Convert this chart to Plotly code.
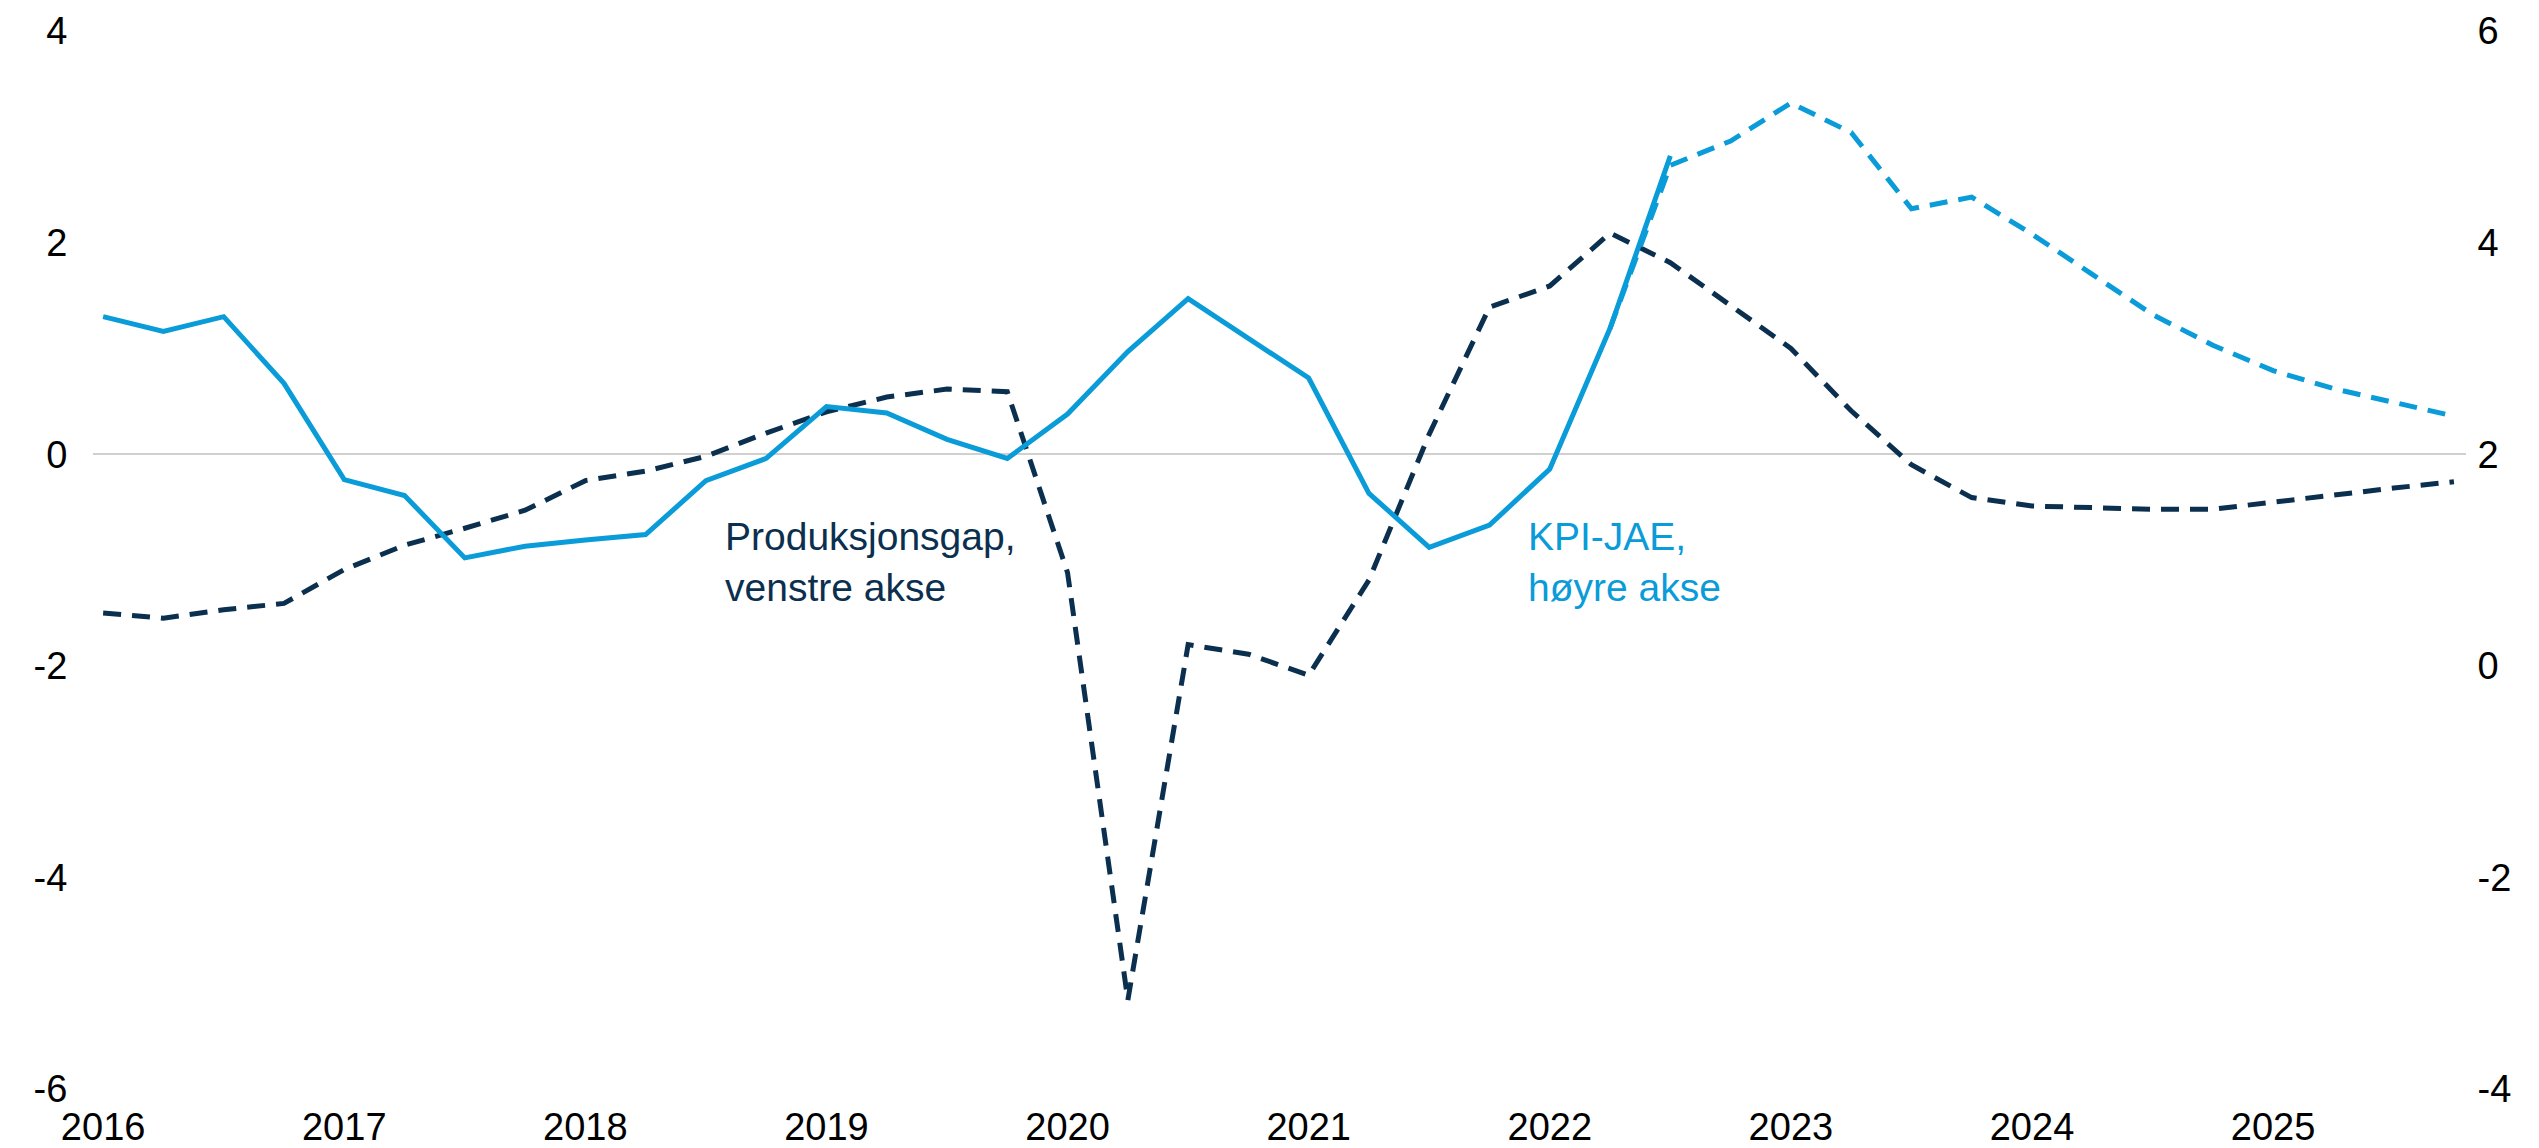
import plotly.graph_objects as go

# quarterly positions, 2016Q1 .. 2025Q4
quarters = [2016 + i / 4 for i in range(40)]

# Produksjonsgap (left axis), dashed throughout
gap = [-1.50, -1.55, -1.47, -1.41, -1.09, -0.86, -0.70, -0.53,
       -0.25, -0.16, -0.02, 0.20, 0.40, 0.54, 0.615, 0.59,
       -1.12, -5.16, -1.80, -1.89, -2.09, -1.19, 0.19, 1.39,
       1.59, 2.09, 1.81, 1.40, 1.00, 0.41, -0.10, -0.41,
       -0.49, -0.505, -0.52, -0.52, -0.45, -0.39, -0.32, -0.26]

# KPI-JAE (right axis), history to 2022Q3
kpi_hist = [3.30, 3.16, 3.30, 2.67, 1.76, 1.61, 1.02, 1.13,
            1.19, 1.24, 1.75, 1.96, 2.45, 2.39, 2.14, 1.96,
            2.38, 2.97, 3.47, 3.09, 2.72, 1.63, 1.12, 1.33,
            1.86, 3.19, 4.82]
# KPI-JAE projection, 2022Q2 .. 2025Q4
kpi_proj = [3.19, 4.73, 4.96, 5.32, 5.04, 4.32, 4.43, 4.08, 3.70,
            3.32, 3.03, 2.79, 2.62, 2.49, 2.36]

years = list(range(2016, 2026))
left_ticks = [-6, -4, -2, 0, 2, 4]
right_ticks = [-4, -2, 0, 2, 4, 6]

navy = "#0b2f4f"
blue = "#0a9bd9"
dash = "18px,11px"
clear = "rgba(0,0,0,0)"

fig = go.Figure()
fig.add_trace(go.Scatter(x=quarters, y=gap, mode="lines",
                         line=dict(color=navy, width=5, dash=dash),
                         yaxis="y"))
fig.add_trace(go.Scatter(x=quarters[:len(kpi_hist)], y=kpi_hist, mode="lines",
                         line=dict(color=blue, width=5), yaxis="y2"))
fig.add_trace(go.Scatter(x=quarters[25:], y=kpi_proj, mode="lines",
                         line=dict(color=blue, width=5, dash=dash),
                         yaxis="y2"))

fig.add_annotation(x=2018.57, y=-1.02, xref="x", yref="y",
                   text="Produksjonsgap,<br>venstre akse", showarrow=False,
                   xanchor="left", yanchor="middle", align="left",
                   font=dict(color=navy, size=39))
fig.add_annotation(x=2021.90, y=-1.02, xref="x", yref="y",
                   text="KPI-JAE,<br>høyre akse", showarrow=False,
                   xanchor="left", yanchor="middle", align="left",
                   font=dict(color=blue, size=39))

fig.update_layout(
    width=2539, height=1148,
    margin=dict(l=85, r=81, t=23, b=67),
    paper_bgcolor="white", plot_bgcolor="white",
    showlegend=False,
    font=dict(family="Liberation Sans, Arial", size=38, color="#000000"),
    xaxis=dict(range=[2015.958, 2025.80], tickvals=years,
               ticktext=[str(y) for y in years], showgrid=False,
               zeroline=False, showline=False, ticks="outside", ticklen=4,
               tickcolor=clear, automargin=False),
    yaxis=dict(range=[-6, 4], tickvals=left_ticks,
               ticktext=[str(v) for v in left_ticks], showgrid=False,
               zeroline=True, zerolinecolor="#d0d0d0", zerolinewidth=2,
               showline=False, ticks="outside", ticklen=17, tickcolor=clear,
               automargin=False),
    yaxis2=dict(range=[-4, 6], tickvals=right_ticks,
                ticktext=[str(v) for v in right_ticks], overlaying="y",
                side="right", showgrid=False, zeroline=False, showline=False,
                ticks="outside", ticklen=3, tickcolor=clear,
                automargin=False),
)

fig.write_html("out.html")
